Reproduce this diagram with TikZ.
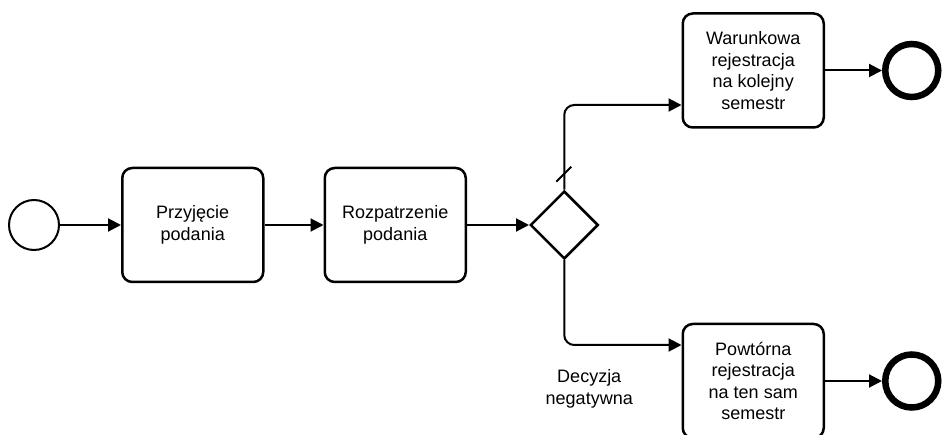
\documentclass[tikz,border=0pt]{standalone}
\usepackage{fontspec}
\setmainfont{Liberation Sans}
\usetikzlibrary{positioning}
\usetikzlibrary{shapes.geometric}
\usetikzlibrary{arrows.meta}

\begin{document}
\begin{tikzpicture}
          [x=1pt, y=1pt,
           every node/.style={font=\fontsize{18}{21.5}\selectfont},
           task/.style={draw, line width=2.5pt, rounded corners=10pt, minimum width=141pt, minimum height=114pt, align=center, inner sep=0pt},
           startev/.style={draw, circle, line width=2pt, minimum size=50pt, inner sep=0pt},
           endev/.style={draw, circle, line width=6.5pt, minimum size=53pt, inner sep=0pt},
           gateway/.style={draw, diamond, line width=2.5pt, minimum width=68pt, minimum height=68pt, inner sep=0pt},
           flow/.style={line width=2pt, -{Triangle[length=13pt, width=13pt]}}]
          \useasboundingbox (0,0) rectangle (942,-435);

          \node (start) [startev] at (34,-225) {};
          \node (przyjecie) [task, right = 61pt of start] {Przyjęcie\\podania};
          \node (rozpatrzenie) [task, right = 59pt of przyjecie] {Rozpatrzenie\\podania};
          \node (gw) [gateway, right = 62pt of rozpatrzenie] {};
          \node (warunkowa) [task, right = 82pt of gw, yshift=154.5pt] {Warunkowa\\rejestracja\\na kolejny\\semestr};
          \node (powtorna) [task, right = 82pt of gw, yshift=-156pt] {Powtórna\\rejestracja\\na ten sam\\semestr};
          \node (end1) [endev, right = 57pt of warunkowa] {};
          \node (end2) [endev, right = 57pt of powtorna] {};
          \node (decyzja) [below = 106pt of gw, xshift=25pt, align=center] {Decyzja\\negatywna};

          \draw[flow] (start) -- (przyjecie);
          \draw[flow] (przyjecie) -- (rozpatrzenie);
          \draw[flow] (rozpatrzenie) -- (gw);
          \draw[flow, rounded corners=10pt] (gw.north) |- ([yshift=-34.5pt]warunkowa.west);
          \draw[flow, rounded corners=10pt] (gw.south) |- ([yshift=36pt]powtorna.west);
          \draw[line width=2pt] ([shift={(-8,8)}]gw.north) -- ([shift={(7,23)}]gw.north);
          \draw[flow] (warunkowa) -- (end1);
          \draw[flow] (powtorna) -- (end2);
        \end{tikzpicture}
\end{document}
